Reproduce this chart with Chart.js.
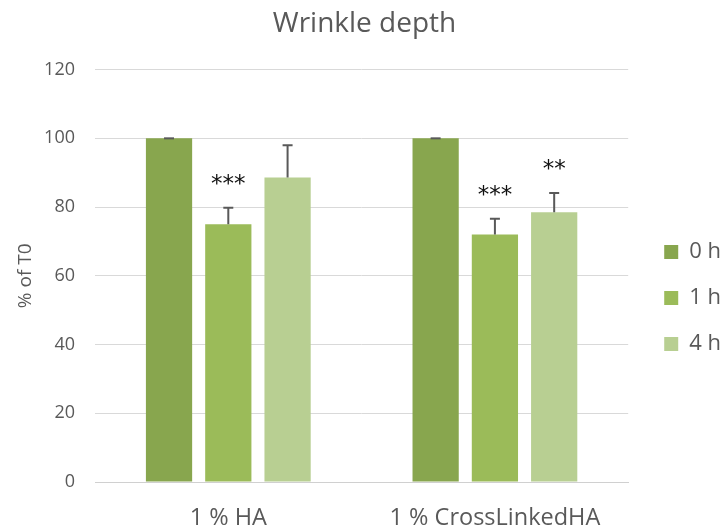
<!DOCTYPE html>
<html>
<head>
<meta charset="utf-8">
<script src="https://cdn.jsdelivr.net/npm/chart.js@4"></script>
<style>
  html, body { margin: 0; padding: 0; background: #fff; }
  #wrap { width: 725px; height: 529px; }
</style>
</head>
<body>
<div id="wrap"><canvas id="myChart"></canvas></div>
<script>
const grupos = ['1 % HA', '1 % CrossLinkedHA'];
const tiempos = ['0 h', '1 h', '4 h'];
const valores0h = [100, 100];
const valores1h = [75, 72];
const valores4h = [88.6, 78.5];
const error0h = [0, 0];
const error1h = [4.8, 4.6];
const error4h = [9.4, 5.6];
const estrellas1h = ['***', '***'];
const estrellas4h = ['', '**'];
const colores = ['#88a64e', '#9bbb59', '#b8cf92'];

const gris = '#595959';

// dibuja barras de error (solo hacia arriba) y los asteriscos
const errorPlugin = {
  id: 'errores',
  afterLayout(chart) {
    // mover la leyenda un poco (como en el original)
    const lg = chart.legend;
    lg.left += 12; lg.right += 12;
    lg.top += 30; lg.bottom += 30;
  },
  afterDatasetsDraw(chart) {
    const c = chart.ctx;
    const y = chart.scales.y;
    chart.data.datasets.forEach((ds, i) => {
      const meta = chart.getDatasetMeta(i);
      meta.data.forEach((bar, j) => {
        const v = ds.data[j];
        const top = y.getPixelForValue(v + ds.errores[j]);
        const base = y.getPixelForValue(v);
        c.save();
        c.strokeStyle = gris;
        c.lineWidth = 2;
        c.beginPath();
        c.moveTo(bar.x, base);
        c.lineTo(bar.x, top);
        c.moveTo(bar.x - 5, top);
        c.lineTo(bar.x + 5, top);
        c.stroke();
        const s = ds.estrellas ? ds.estrellas[j] : '';
        if (s) {
          c.fillStyle = '#111';
          c.font = '23px "DejaVu Sans"';
          c.textAlign = 'center';
          c.textBaseline = 'middle';
          c.fillText(s, bar.x, top - 23);
        }
        c.restore();
      });
    });
  }
};

const ctx = document.getElementById('myChart');
const myChart = new Chart(ctx, {
  type: 'bar',
  data: {
    labels: grupos,
    datasets: [
      { label: tiempos[0], data: valores0h, errores: error0h, backgroundColor: colores[0] },
      { label: tiempos[1], data: valores1h, errores: error1h, estrellas: estrellas1h, backgroundColor: colores[1] },
      { label: tiempos[2], data: valores4h, errores: error4h, estrellas: estrellas4h, backgroundColor: colores[2] }
    ]
  },
  options: {
    responsive: true,
    maintainAspectRatio: false,
    animation: false,
    categoryPercentage: 0.667,
    barPercentage: 0.78,
    layout: {
      padding: { left: 10, right: 6, top: 7, bottom: 0 }
    },
    plugins: {
      title: {
        display: true,
        text: 'Wrinkle depth',
        color: gris,
        font: { family: 'Open Sans', size: 28, weight: 'normal' },
        padding: { top: 0, bottom: 29 }
      },
      legend: {
        position: 'right',
        labels: {
          color: gris,
          font: { family: 'Open Sans', size: 22 },
          boxWidth: 14,
          boxHeight: 14,
          padding: 24
        }
      },
      tooltip: { enabled: false }
    },
    scales: {
      x: {
        grid: { display: false },
        border: { color: '#d0d0d0' },
        ticks: {
          color: gris,
          padding: 14,
          maxRotation: 0,
          font: { family: 'Open Sans', size: 23.5 }
        },
        afterFit(scale) { scale.height = 47; }
      },
      y: {
        min: 0,
        max: 120,
        border: { display: false },
        grid: { color: '#d9d9d9', drawTicks: false },
        ticks: {
          stepSize: 20,
          color: gris,
          padding: 20,
          font: { family: 'Open Sans', size: 18 }
        },
        title: {
          display: true,
          text: '% of T0',
          color: gris,
          font: { family: 'Open Sans', size: 19 }
        },
        afterFit(scale) { scale.width = 85; }
      }
    }
  },
  plugins: [errorPlugin]
});
</script>
</body>
</html>
